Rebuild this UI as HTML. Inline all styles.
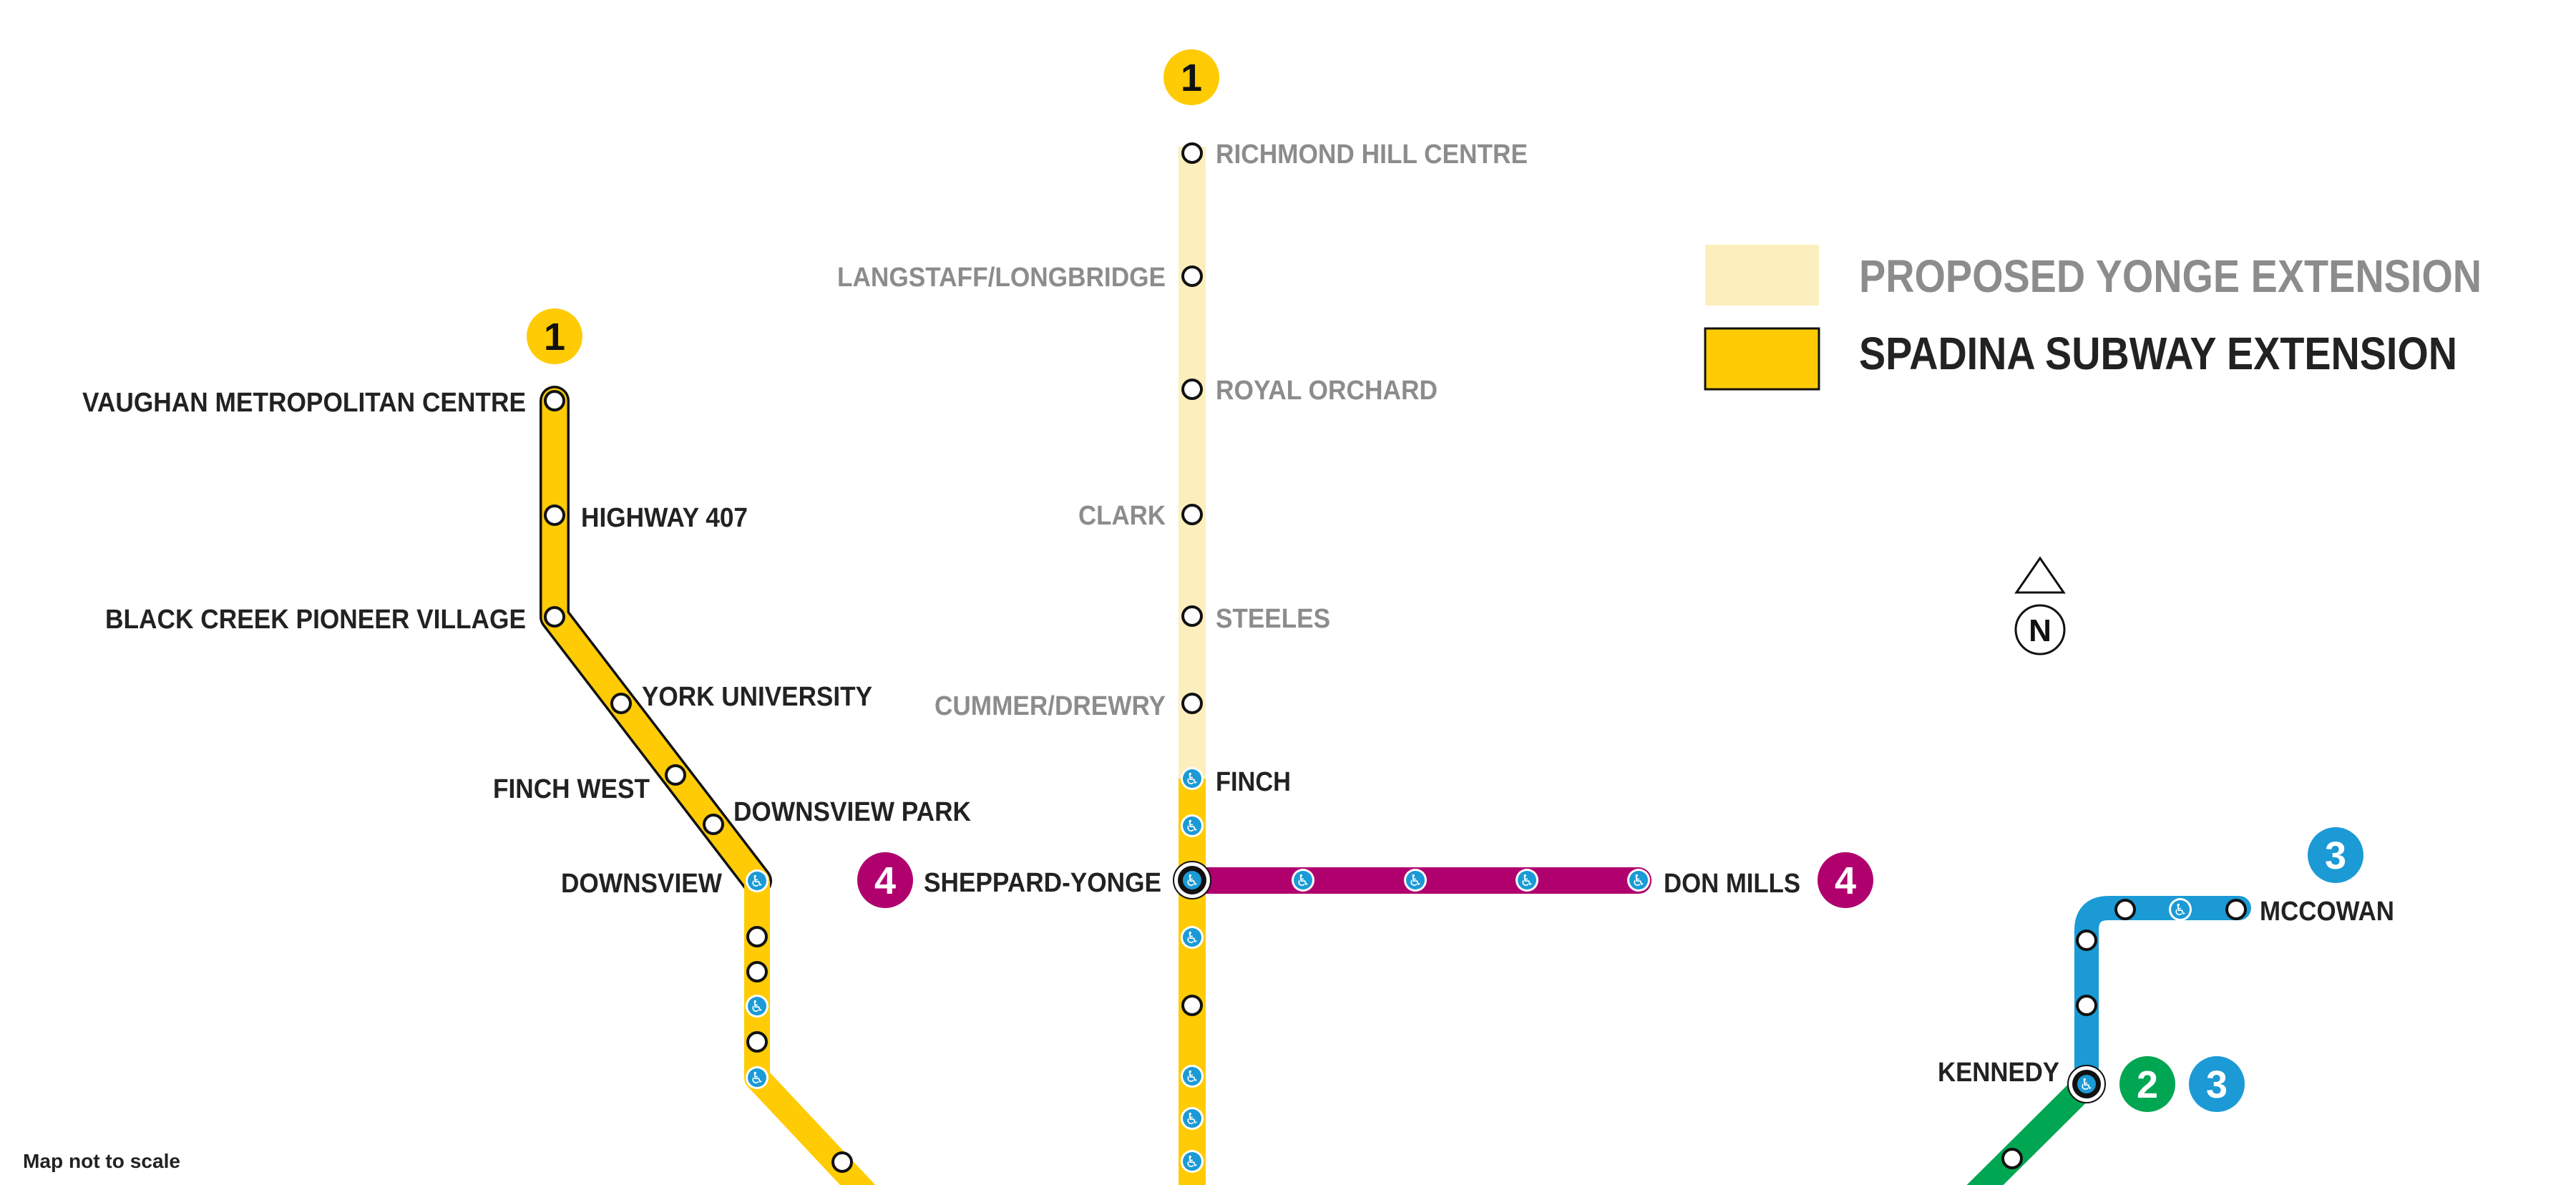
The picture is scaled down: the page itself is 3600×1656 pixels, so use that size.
<!DOCTYPE html>
<html><head><meta charset="utf-8"><style>
html,body{margin:0;padding:0;background:#fff;}
svg{display:block;}
text{font-family:"Liberation Sans",sans-serif;font-weight:bold;}
</style></head><body>
<svg width="3600" height="1656" viewBox="0 0 3600 1656" xmlns="http://www.w3.org/2000/svg">
<defs>
<g id="st"><circle r="13" fill="#fff" stroke="#111" stroke-width="4"/></g>
<g id="acc"><circle r="16" fill="#fff"/><circle r="13" fill="#1b9ad6"/><text x="0" y="8" font-size="22" fill="#fff" text-anchor="middle" style="font-family:'DejaVu Sans',sans-serif;font-weight:normal">♿</text></g>
<g id="ix"><circle r="26" fill="#fff" stroke="#111" stroke-width="2"/><circle r="20" fill="#111"/><circle r="13" fill="#1b9ad6"/><text x="0" y="8" font-size="22" fill="#fff" text-anchor="middle" style="font-family:'DejaVu Sans',sans-serif;font-weight:normal">♿</text></g>
</defs>

<!-- Yonge line -->
<rect x="1647" y="205" width="38" height="883" fill="#fdefbd"/>
<rect x="1647" y="1088" width="38" height="568" fill="#ffcb05"/>

<!-- Sheppard line -->
<rect x="1685" y="1212" width="623" height="37" rx="18" fill="#b0006e"/>
<rect x="1685" y="1212" width="40" height="37" fill="#b0006e"/>

<!-- Spadina line (outlined) -->
<path d="M775 560 L775 862 L1058 1231" fill="none" stroke="#111" stroke-width="42" stroke-linejoin="round" stroke-linecap="round"/>
<path d="M1058 1231 L1058 1506 L1240 1700" fill="none" stroke="#ffcb05" stroke-width="36" stroke-linejoin="round"/>
<path d="M775 560 L775 862 L1058 1231" fill="none" stroke="#ffcb05" stroke-width="35" stroke-linejoin="round" stroke-linecap="round"/>

<!-- Line 3 -->
<path d="M2916 1515 L2916 1300 Q2916 1269 2947 1269 L3129 1269" fill="none" stroke="#1b9ad6" stroke-width="34" stroke-linecap="round"/>
<!-- Line 2 -->
<path d="M2916 1515 L2760 1670" fill="none" stroke="#00a651" stroke-width="36"/>

<!-- Spadina stations -->
<use href="#st" x="775" y="560"/><use href="#st" x="775" y="720"/><use href="#st" x="775" y="862"/>
<use href="#st" x="868" y="983"/><use href="#st" x="944" y="1083"/><use href="#st" x="997" y="1152"/>
<use href="#acc" x="1058" y="1231"/>
<use href="#st" x="1058" y="1309"/><use href="#st" x="1058" y="1358"/><use href="#acc" x="1058" y="1406"/>
<use href="#st" x="1058" y="1456"/><use href="#acc" x="1058" y="1506"/><use href="#st" x="1177" y="1624"/>

<!-- Yonge stations -->
<use href="#st" x="1666" y="214"/><use href="#st" x="1666" y="386"/><use href="#st" x="1666" y="544"/>
<use href="#st" x="1666" y="719"/><use href="#st" x="1666" y="861"/><use href="#st" x="1666" y="983"/>
<use href="#acc" x="1666" y="1088"/><use href="#acc" x="1666" y="1154"/><use href="#ix" x="1666" y="1230"/>
<use href="#acc" x="1666" y="1310"/><use href="#st" x="1666" y="1405"/><use href="#acc" x="1666" y="1504"/>
<use href="#acc" x="1666" y="1563"/><use href="#acc" x="1666" y="1623"/>

<!-- Sheppard stations -->
<use href="#acc" x="1821" y="1230"/><use href="#acc" x="1978" y="1230"/><use href="#acc" x="2134" y="1230"/><use href="#acc" x="2290" y="1230"/>

<!-- Line 3 stations -->
<use href="#st" x="2970" y="1271"/><use href="#acc" x="3047" y="1271"/><use href="#st" x="3125" y="1271"/>
<use href="#st" x="2916" y="1314"/><use href="#st" x="2916" y="1405"/><use href="#ix" x="2916" y="1515"/>
<use href="#st" x="2812" y="1619"/>

<!-- Badges -->
<circle cx="775" cy="470" r="39" fill="#ffcb05"/><text x="775" y="489" font-size="54" text-anchor="middle" fill="#111">1</text>
<circle cx="1665" cy="108" r="39" fill="#ffcb05"/><text x="1665" y="127" font-size="54" text-anchor="middle" fill="#111">1</text>
<circle cx="1237" cy="1230" r="39" fill="#b0006e"/><text x="1237" y="1249" font-size="54" text-anchor="middle" fill="#fff">4</text>
<circle cx="2579" cy="1230" r="39" fill="#b0006e"/><text x="2579" y="1249" font-size="54" text-anchor="middle" fill="#fff">4</text>
<circle cx="3264" cy="1195" r="39" fill="#1b9ad6"/><text x="3264" y="1214" font-size="54" text-anchor="middle" fill="#fff">3</text>
<circle cx="3001" cy="1515" r="39" fill="#00a651"/><text x="3001" y="1534" font-size="54" text-anchor="middle" fill="#fff">2</text>
<circle cx="3098" cy="1515" r="39" fill="#1b9ad6"/><text x="3098" y="1534" font-size="54" text-anchor="middle" fill="#fff">3</text>

<!-- Spadina labels -->
<g fill="#222" font-size="38">
<text x="115" y="575" textLength="620" lengthAdjust="spacingAndGlyphs">VAUGHAN METROPOLITAN CENTRE</text>
<text x="812" y="736" textLength="233" lengthAdjust="spacingAndGlyphs">HIGHWAY 407</text>
<text x="147" y="878" textLength="588" lengthAdjust="spacingAndGlyphs">BLACK CREEK PIONEER VILLAGE</text>
<text x="897" y="986" textLength="322" lengthAdjust="spacingAndGlyphs">YORK UNIVERSITY</text>
<text x="689" y="1115" textLength="219" lengthAdjust="spacingAndGlyphs">FINCH WEST</text>
<text x="1025" y="1147" textLength="332" lengthAdjust="spacingAndGlyphs">DOWNSVIEW PARK</text>
<text x="784" y="1247" textLength="225" lengthAdjust="spacingAndGlyphs">DOWNSVIEW</text>
<text x="1699" y="1105" textLength="105" lengthAdjust="spacingAndGlyphs">FINCH</text>
<text x="1291" y="1246" textLength="332" lengthAdjust="spacingAndGlyphs">SHEPPARD-YONGE</text>
<text x="2325" y="1247" textLength="191" lengthAdjust="spacingAndGlyphs">DON MILLS</text>
<text x="3158" y="1286" textLength="188" lengthAdjust="spacingAndGlyphs">MCCOWAN</text>
<text x="2708" y="1511" textLength="170" lengthAdjust="spacingAndGlyphs">KENNEDY</text>
<text x="32" y="1632" font-size="28" textLength="220" lengthAdjust="spacingAndGlyphs">Map not to scale</text>
</g>

<!-- Yonge proposed labels -->
<g fill="#8c8c8c" font-size="38">
<text x="1699" y="228" textLength="436" lengthAdjust="spacingAndGlyphs">RICHMOND HILL CENTRE</text>
<text x="1170" y="400" textLength="459" lengthAdjust="spacingAndGlyphs">LANGSTAFF/LONGBRIDGE</text>
<text x="1699" y="558" textLength="310" lengthAdjust="spacingAndGlyphs">ROYAL ORCHARD</text>
<text x="1507" y="733" textLength="122" lengthAdjust="spacingAndGlyphs">CLARK</text>
<text x="1699" y="877" textLength="160" lengthAdjust="spacingAndGlyphs">STEELES</text>
<text x="1306" y="999" textLength="323" lengthAdjust="spacingAndGlyphs">CUMMER/DREWRY</text>
</g>

<!-- Legend -->
<rect x="2383" y="342" width="159" height="85" fill="#fdefbd"/>
<rect x="2383" y="459" width="159" height="85" fill="#ffcb05" stroke="#111" stroke-width="3"/>
<text x="2598" y="408" font-size="64" fill="#8c8c8c" textLength="870" lengthAdjust="spacingAndGlyphs">PROPOSED YONGE EXTENSION</text>
<text x="2598" y="516" font-size="64" fill="#222" textLength="836" lengthAdjust="spacingAndGlyphs">SPADINA SUBWAY EXTENSION</text>

<!-- North arrow -->
<polygon points="2851,780 2818,828 2884,828" fill="none" stroke="#111" stroke-width="3"/>
<circle cx="2851" cy="880" r="34" fill="none" stroke="#111" stroke-width="3"/>
<text x="2851" y="896" font-size="44" text-anchor="middle" fill="#111">N</text>
</svg>
</body></html>
